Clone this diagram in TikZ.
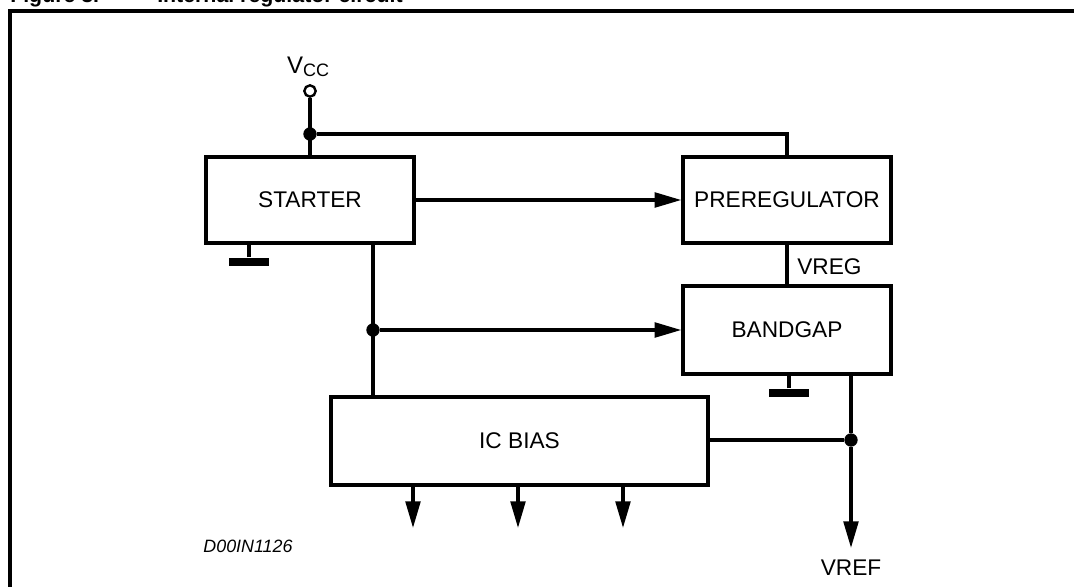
\documentclass[tikz,border=0pt]{standalone}
\usepackage{fontspec}
\setmainfont{Liberation Sans}
\usetikzlibrary{arrows.meta}
\begin{document}
\begin{tikzpicture}[x=0.75pt,y=-0.75pt,
  wire/.style={line width=2.5pt},
  box/.style={draw, line width=2.5pt, inner sep=0pt, font=\fontsize{17}{20}\selectfont},
  lbl/.style={inner sep=0pt, font=\fontsize{17}{20}\selectfont},
  arr/.style={wire, -{Triangle[length=20pt,width=11pt]}},
  dot/.style={circle, fill=black, inner sep=0pt, minimum size=10pt},
  gnd/.style={rectangle, fill=black, inner sep=0pt, minimum width=30pt, minimum height=6.5pt},
  term/.style={circle, draw, line width=1.8pt, fill=white, inner sep=0pt, minimum size=8.5pt}]
\clip (0,0) rectangle (1074,586);
\fill[white] (0,0) rectangle (1074,586);
% title (cut off) and frame
\node[anchor=base west, inner sep=0pt, font=\bfseries\fontsize{16}{16}\selectfont] (t1) at (10,2) {Figure 3.};
\node[anchor=base west, inner sep=0pt, font=\bfseries\fontsize{16}{16}\selectfont] (t2) at (157,2) {Internal regulator circuit};
\draw[line width=2.6pt] (10,590) -- (10,11) -- (1076,11);
% blocks
\node[box, minimum width=156pt, minimum height=64.5pt] (starter) at (310,200) {STARTER};
\node[box, minimum width=156pt, minimum height=64.5pt] (prereg) at (787,200) {PREREGULATOR};
\node[box, minimum width=156pt, minimum height=66pt] (bandgap) at (787,330) {BANDGAP};
\node[box, minimum width=282.75pt, minimum height=66pt] (icbias) at (519.5,441) {IC BIAS};
% VCC
\node[term] (vcc) at (310,91) {};
\node[anchor=base, inner sep=0pt, font=\fontsize{18}{20}\selectfont] (vcclbl) at (308,73) {V\raisebox{-0.3ex}{\fontsize{13.5}{13}\selectfont CC}};
\node[dot] (jt) at (310,134) {};
\draw[wire] (vcc) -- (starter.north);
\draw[wire] (jt) -| (prereg.north);
% starter to preregulator
\draw[arr] (starter.east) -- (prereg.west);
% grounds
\node[gnd] (g1) at (249,262) {};
\draw[wire] (g1) -- (g1 |- starter.south);
\node[gnd] (g2) at (789,393) {};
\draw[wire] (g2) -- (g2 |- bandgap.south);
% VREG
\draw[wire] (prereg.south) -- (bandgap.north);
\node[lbl, anchor=west] (vreg) at (797,267) {VREG};
% starter to bandgap / ic bias
\node[dot] (jm) at (373,330) {};
\draw[wire] (jm |- starter.south) -- (jm |- icbias.north);
\draw[arr] (jm) -- (jm -| bandgap.west);
% VREF
\node[dot] (jr) at (851,440) {};
\coordinate (vrefend) at (851,548);
\draw[wire] (jr |- bandgap.south) -- (jr);
\draw[wire] (icbias.east |- jr) -- (jr);
\draw[arr] (jr) -- (vrefend);
\node[lbl] (vref) at (851,568) {VREF};
% outputs
\coordinate (o1) at (413,528);
\coordinate (o2) at (518,528);
\coordinate (o3) at (623,528);
\draw[arr] (o1 |- icbias.south) -- (o1);
\draw[arr] (o2 |- icbias.south) -- (o2);
\draw[arr] (o3 |- icbias.south) -- (o3);
% drawing number
\node[inner sep=0pt, font=\itshape\fontsize{13.4}{16}\selectfont] (dn) at (248,546) {D00IN1126};
\end{tikzpicture}
\end{document}
